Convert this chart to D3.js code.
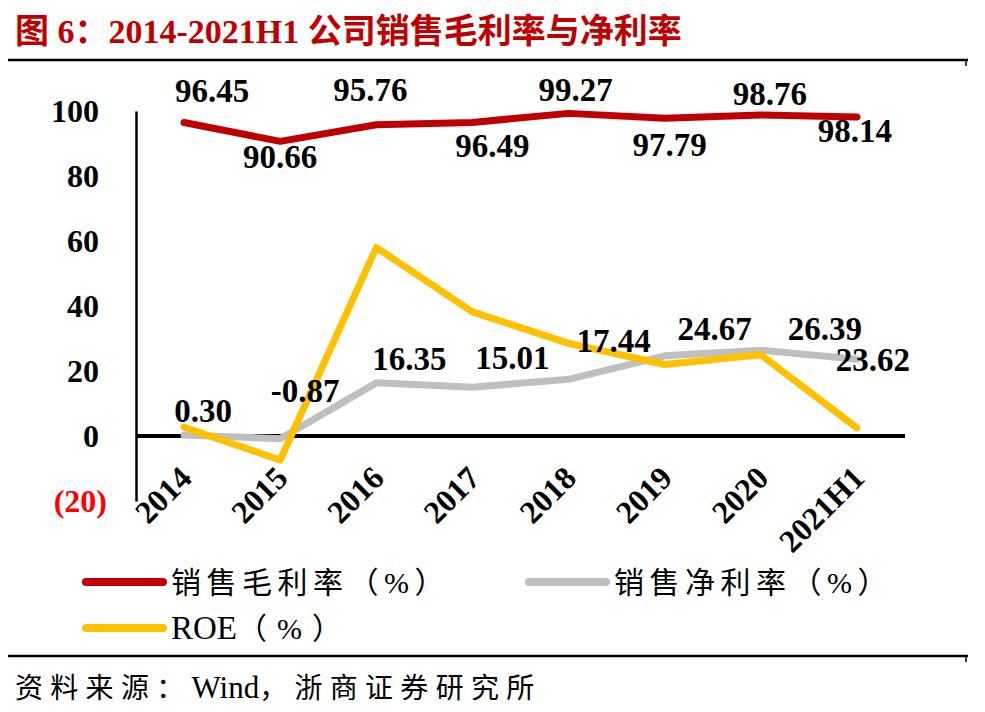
<!DOCTYPE html>
<html>
<head>
<meta charset="utf-8">
<script src="https://d3js.org/d3.v7.min.js"></script>
<style>
  body { margin: 0; background: #fff; }
  text { font-family: "Liberation Serif", "Noto Sans CJK SC", serif; }
</style>
</head>
<body>
<svg id="chart" width="985" height="712"></svg>
<script>
// data
var categories = ["2014", "2015", "2016", "2017", "2018", "2019", "2020", "2021H1"];
var grossMargin = [96.45, 90.66, 95.76, 96.49, 99.27, 97.79, 98.76, 98.14];
var netMargin = [0.30, -0.87, 16.35, 15.01, 17.44, 24.67, 26.39, 23.62];
var roe = [2.7, -7.4, 58.0, 38.2, 28.5, 22.0, 25.0, 2.5];
var yTicks = [-20, 0, 20, 40, 60, 80, 100];
// legend names split into [latin/cjk, text] runs
var legendNames = [
    [["c", "销售毛利率（%）"]],
    [["c", "销售净利率（%）"]],
    [["l", "ROE"], ["c", "（%）"]]
];
var sourceRuns = [["c", "资料来源："], ["l", "Wind"], ["c", "，浙商证券研究所"]];

// label offsets (dx, dy from point) as placed in the original
var grossLabelOff = [[28, -21], [0, 27], [-6, -24], [20, 35], [7, -12], [5, 38], [9, -10], [-2, 25]];
var netLabelOff = [[19, -13], [25, -37], [33, -13], [40, -18], [45, -27], [50, -16], [64, -10], [16, 12]];

var svg = d3.select("#chart");

// title
svg.append("text")
    .attr("x", 15).attr("y", 43)
    .attr("font-size", 34).attr("font-weight", "bold")
    .attr("fill", "#c00000")
    .text("图 6：2014-2021H1 公司销售毛利率与净利率");

svg.append("line").attr("x1", 8).attr("x2", 968).attr("y1", 60).attr("y2", 60)
    .attr("stroke", "#000").attr("stroke-width", 2.5);
svg.append("line").attr("x1", 966).attr("x2", 966).attr("y1", 60).attr("y2", 66)
    .attr("stroke", "#000").attr("stroke-width", 1.5);
svg.append("line").attr("x1", 8).attr("x2", 968).attr("y1", 656).attr("y2", 656)
    .attr("stroke", "#000").attr("stroke-width", 2.5);
svg.append("line").attr("x1", 966).attr("x2", 966).attr("y1", 656).attr("y2", 662)
    .attr("stroke", "#000").attr("stroke-width", 1.5);

// scales
var x = d3.scalePoint().domain(categories).range([136, 905]).padding(0.5);
var y = d3.scaleLinear().domain([-20, 100]).range([501, 111]);

// y axis
var yAxis = svg.append("g")
    .attr("transform", "translate(136,0)")
    .call(d3.axisLeft(y).tickValues(yTicks).tickSize(0).tickPadding(37)
        .tickFormat(d => d < 0 ? "(" + Math.abs(d) + ")" : d));
yAxis.select(".domain").attr("stroke", "#000").attr("stroke-width", 2.5);
yAxis.selectAll(".tick text")
    .attr("font-family", "Liberation Serif, serif")
    .attr("font-size", 32).attr("font-weight", "bold")
    .attr("fill", d => d < 0 ? "#ff0000" : "#000")
    .attr("dx", d => d < 0 ? 8 : 0);

// zero line with category labels
var xAxis = svg.append("g")
    .attr("transform", "translate(0," + y(0) + ")")
    .call(d3.axisBottom(x).tickSize(0).tickSizeOuter(0).tickPadding(0));
xAxis.select(".domain").attr("d", "M136,0H905").attr("stroke", "#000").attr("stroke-width", 4);
xAxis.selectAll(".tick text")
    .attr("font-family", "Liberation Serif, serif")
    .attr("font-size", 32).attr("font-weight", "bold")
    .attr("fill", "#000")
    .attr("text-anchor", "end")
    .attr("transform", "translate(9,44) rotate(-45)")
    .attr("dy", 0);

// lines
var series = [
    { values: grossMargin, color: "#c00000" },
    { values: netMargin, color: "#bfbfbf" },
    { values: roe, color: "#ffc000" }
];
var line = d3.line().x((d, i) => x(categories[i])).y(d => y(d));
series.forEach(function (s) {
    svg.append("path")
        .datum(s.values)
        .attr("d", line)
        .attr("fill", "none")
        .attr("stroke", s.color)
        .attr("stroke-width", 7)
        .attr("stroke-linecap", "round")
        .attr("stroke-linejoin", "round");
});

// data labels
function addLabels(values, offs) {
    svg.append("g").selectAll("text")
        .data(values)
        .join("text")
        .attr("x", (d, i) => x(categories[i]) + offs[i][0])
        .attr("y", (d, i) => y(d) + offs[i][1])
        .attr("text-anchor", "middle")
        .attr("font-family", "Liberation Serif, serif")
        .attr("font-size", 33).attr("font-weight", "bold")
        .attr("fill", "#000")
        .text(d => d.toFixed(2));
}
addLabels(grossMargin, grossLabelOff);
addLabels(netMargin, netLabelOff);

// mixed text runs: cjk spaced out, latin set tight and a bit larger
function addRuns(sel, runs, size, spacing) {
    runs.forEach(function (r) {
        sel.append("tspan")
            .attr("font-size", r[0] == "l" ? size + 3 : size)
            .attr("letter-spacing", r[0] == "l" ? 0 : spacing)
            .text(r[1]);
    });
}

// legend
var legendPos = [[86, 582], [529, 582], [86, 628]];
legendNames.forEach(function (runs, i) {
    var g = svg.append("g").attr("transform", "translate(" + legendPos[i][0] + "," + legendPos[i][1] + ")");
    g.append("line").attr("x1", 0).attr("x2", 77).attr("y1", 0).attr("y2", 0)
        .attr("stroke", series[i].color).attr("stroke-width", 8).attr("stroke-linecap", "round");
    var t = g.append("text").attr("x", 85).attr("y", 11).attr("fill", "#000");
    addRuns(t, runs, 30, runs.length > 1 ? 10 : 5.5);
});

// source
var src = svg.append("text")
    .attr("x", 15).attr("y", 698).attr("fill", "#000");
addRuns(src, sourceRuns, 28, 7.3);
</script>
</body>
</html>
